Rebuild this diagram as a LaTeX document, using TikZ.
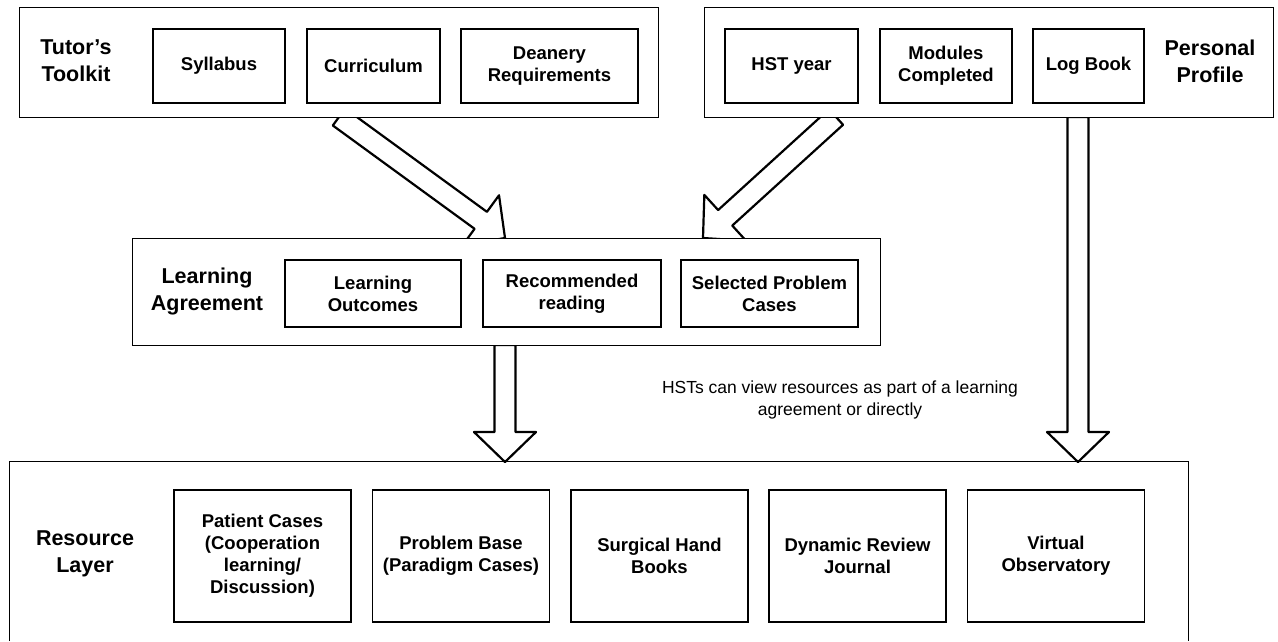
\documentclass[tikz,border=0pt]{standalone}
\usepackage{fontspec}
\setmainfont{Liberation Sans}
\usetikzlibrary{calc}
\tikzset{
  container/.style={draw, line width=0.8pt, fill=white, inner sep=0pt},
  item/.style={draw, line width=1.6pt, fill=white, inner sep=0pt, align=center,
    font=\fontsize{18.5}{22}\selectfont\bfseries},
  lbl/.style={align=center, inner sep=0pt, font=\fontsize{21.5}{27}\selectfont\bfseries},
  note/.style={align=center, inner sep=0pt, font=\fontsize{17.5}{22}\selectfont},
  fatarrow/.style={draw, line width=2.2pt, fill=white, line join=round},
}
% #1 prefix, #2 tail coordinate, #3 tip coordinate
\newcommand{\fatarr}[3]{%
  \coordinate (#1h) at ($(#3)!30pt!(#2)$);
  \draw[fatarrow] ($(#2)!10.5pt!90:(#3)$) -- ($(#1h)!10.5pt!90:(#3)$)
    -- ($(#1h)!31pt!90:(#3)$) -- (#3) -- ($(#1h)!31pt!-90:(#3)$)
    -- ($(#1h)!10.5pt!-90:(#3)$) -- ($(#2)!10.5pt!-90:(#3)$) -- cycle;
}
\begin{document}
\begin{tikzpicture}[x=1pt,y=-1pt]
\useasboundingbox (0,0) rectangle (1278,641);

% arrow end points
\coordinate (a1t) at (339,117);
\coordinate (a1h) at (505,238);
\coordinate (a2t) at (836,117);
\coordinate (a2h) at (703,238);
\coordinate (a3t) at (505,345);
\coordinate (a3h) at (505,462);
\coordinate (a4t) at (1078,117);
\coordinate (a4h) at (1078,462);

% arrows (behind the containers)
\fatarr{x1}{a1t}{a1h}
\fatarr{x2}{a2t}{a2h}
\fatarr{x3}{a3t}{a3h}
\fatarr{x4}{a4t}{a4h}

% Tutor's Toolkit
\node[container, minimum width=639, minimum height=110] (tk) at (338.5,62) {};
\node[lbl] (tkl) at (76,61) {Tutor’s\\Toolkit};
\node[item, minimum width=132, minimum height=74] (syl) at (219,66) {Syllabus};
\node[item, minimum width=133, minimum height=74] (cur) at (373.5,66) {Curriculum};
\node[item, minimum width=177, minimum height=74] (dea) at (549.5,66) {Deanery\\Requirements};

% Personal Profile
\node[container, minimum width=569, minimum height=110] (pp) at (988.5,62) {};
\node[item, minimum width=133, minimum height=74] (hst) at (791.5,66) {HST year};
\node[item, minimum width=132, minimum height=74] (mod) at (946,66) {Modules\\Completed};
\node[item, minimum width=111, minimum height=74] (log) at (1088.5,66) {Log Book};
\node[lbl] (ppl) at (1210,61) {Personal\\Profile};

% Learning Agreement
\node[container, minimum width=748, minimum height=107] (la) at (506,291.5) {};
\node[lbl] (lal) at (207,291) {Learning\\Agreement};
\node[item, minimum width=176, minimum height=67] (lo) at (373,293.5) {Learning\\Outcomes};
\node[item, minimum width=178, minimum height=67] (rr) at (572,293.5) {Recommended\\reading};
\node[item, minimum width=177, minimum height=67] (spc) at (769.5,293.5) {Selected Problem\\Cases};

% note
\node[note] (nt) at (840,400) {HSTs can view resources as part of a learning\\agreement or directly};

% Resource Layer
\path node[inner sep=0pt, minimum width=1178, minimum height=179] (rl) at (599,551.5) {};
\draw[line width=0.8pt] (rl.south west) -- (rl.north west) -- (rl.north east) -- (rl.south east);
\node[lbl] (rll) at (85,554) {Resource\\Layer};
\node[item, minimum width=177, minimum height=132] (pc) at (262.5,556) {Patient Cases\\(Cooperation\\learning/\\Discussion)};
\node[item, minimum width=177, minimum height=132] (pb) at (461,556) {Problem Base\\(Paradigm Cases)};
\node[item, minimum width=177, minimum height=132] (sh) at (659.5,556) {Surgical Hand\\Books};
\node[item, minimum width=177, minimum height=132] (dr) at (857.5,556) {Dynamic Review\\Journal};
\node[item, minimum width=177, minimum height=132] (vo) at (1056,556) {Virtual\\Observatory};
\end{tikzpicture}
\end{document}
